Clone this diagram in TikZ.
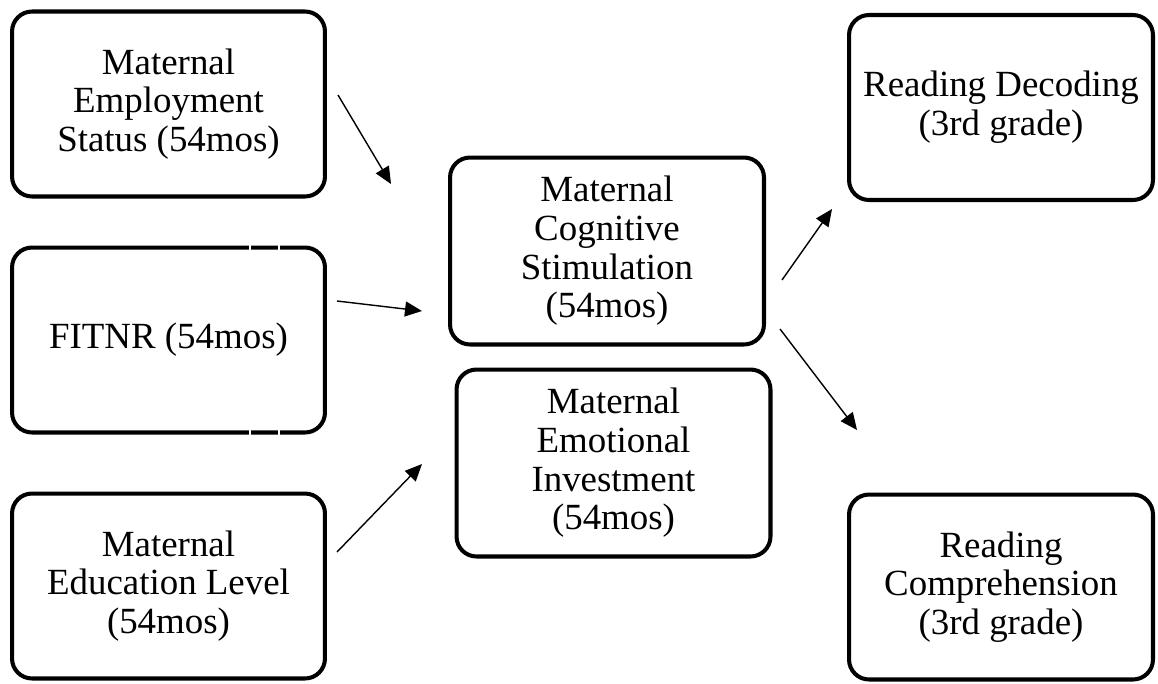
\documentclass[tikz,border=0pt]{standalone}
\usepackage{fontspec}
\setmainfont{Liberation Serif}
\usetikzlibrary{arrows.meta, positioning}

\begin{document}
\begin{tikzpicture}[x=0.02cm,y=-0.02cm,->,>={Triangle[length=0.34cm,width=0.3cm]},line width=0.8pt,
    box/.style={draw,rounded corners=0.4cm,line width=2.3pt,align=center,inner sep=0pt,
      font=\fontsize{21}{22}\selectfont},
    leftbox/.style={box,minimum width=6.26cm,minimum height=3.7cm},
    midbox/.style={box,minimum width=6.28cm,minimum height=3.74cm},
    rightbox/.style={box,minimum width=6.08cm,minimum height=3.7cm}]
      \useasboundingbox (0,0) rectangle (1158,683);
      \node[leftbox] (emp) at (168.5,104) {Maternal\\Employment\\Status (54mos)};
      \node[leftbox] (fit) at (168.5,340) {FITNR (54mos)};
      \node[leftbox] (edu) at (168.5,586) {Maternal\\Education Level\\(54mos)};
      \node[midbox] (cog) at (607,251) {Maternal\\Cognitive\\Stimulation\\(54mos)};
      \node[midbox] (emo) at (613.5,463) {Maternal\\Emotional\\Investment\\(54mos)};
      \node[rightbox] (dec) at (1001,107.5) {Reading Decoding\\(3rd grade)};
      \node[rightbox] (comp) at (1001,587) {Reading\\Comprehension\\(3rd grade)};
      % small breaks in the FITNR border
      \draw[-,white,line width=1.2pt] (250,242) -- (250,250) (279,242) -- (279,250)
        (250,430) -- (250,438) (279,430) -- (279,438);
      % arrow ends
      \coordinate (e1) at (338,95);  \coordinate (e2) at (391,184);
      \coordinate (f1) at (337,301); \coordinate (f2) at (422,311);
      \coordinate (m1) at (337,552); \coordinate (m2) at (422,464);
      \coordinate (d1) at (782,280); \coordinate (d2) at (832,209);
      \coordinate (c1) at (780,329); \coordinate (c2) at (857,430);
      \draw (e1) -- (e2);
      \draw (f1) -- (f2);
      \draw (m1) -- (m2);
      \draw (d1) -- (d2);
      \draw (c1) -- (c2);
    \end{tikzpicture}
\end{document}
